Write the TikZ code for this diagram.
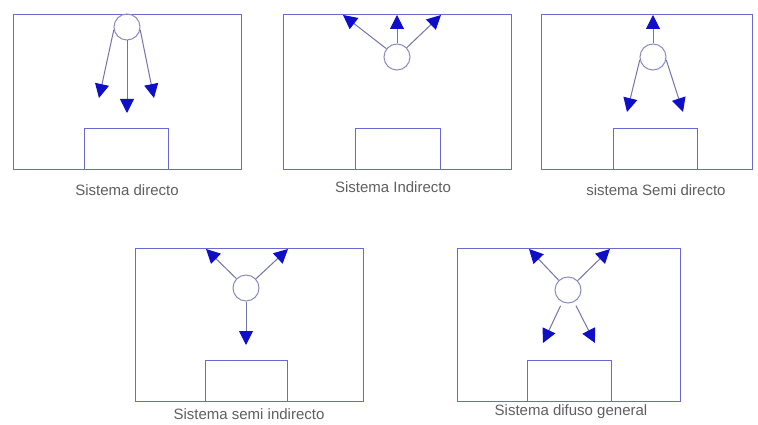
\documentclass[tikz,border=0pt]{standalone}
\usepackage{fontspec}
\setmainfont{Liberation Sans}
\usetikzlibrary{arrows.meta}
\definecolor{boxc}{RGB}{105,105,210}
\definecolor{circc}{RGB}{140,140,190}
\definecolor{linec}{RGB}{115,115,175}
\definecolor{tipc}{RGB}{15,15,200}
\definecolor{txtc}{RGB}{95,95,95}
\begin{document}
\begin{tikzpicture}[x=1pt,y=-1pt,
  room/.style={draw=boxc,line width=0.9pt,inner sep=0pt,rectangle},
  lamp/.style={draw=boxc,line width=0.9pt,inner sep=0pt,rectangle,minimum width=84pt,minimum height=41pt},
  lum/.style={draw=circc,line width=1pt,circle,inner sep=0pt,minimum size=26pt},
  ray/.style={draw=linec,line width=1pt,-{Triangle[length=14pt,width=14pt,fill=tipc,color=tipc]}},
  lbl/.style={text=txtc,font=\fontsize{15}{17}\selectfont,inner sep=0pt}]
\useasboundingbox[fill=white] (0,0) rectangle (758,425);
% ---- Box 1: Sistema directo
\node[room,minimum width=228pt,minimum height=155pt] (r1) at (127,91.5) {};
\node[lamp] (l1) at (126,148.5) {};
\node[lum] (c1) at (127,27) {};
\coordinate (t1a) at (99,98);
\coordinate (t1b) at (127,113);
\coordinate (t1c) at (154,98);
\draw[ray] (c1.192) -- (t1a);
\draw[ray] (c1.south) -- (t1b);
\draw[ray] (c1.-12) -- (t1c);
\node[lbl] (n1) at (127,190) {Sistema directo};
% ---- Box 2: Sistema Indirecto
\node[room,minimum width=228pt,minimum height=155pt] (r2) at (397,91.5) {};
\node[lamp,minimum width=85pt] (l2) at (397.5,148.5) {};
\node[lum] (c2) at (397,57) {};
\coordinate (t2a) at (343,15);
\coordinate (t2b) at (397,15);
\coordinate (t2c) at (441,15);
\draw[ray] (c2) -- (t2a);
\draw[ray] (c2) -- (t2b);
\draw[ray] (c2) -- (t2c);
\node[lbl] (n2) at (393,187) {Sistema Indirecto};
% ---- Box 3: sistema Semi directo
\node[room,minimum width=211pt,minimum height=155pt] (r3) at (646.5,91.5) {};
\node[lamp] (l3) at (655,148.5) {};
\node[lum] (c3) at (653,57) {};
\coordinate (t3a) at (653,15);
\coordinate (t3b) at (627,112);
\coordinate (t3c) at (683,112);
\draw[ray] (c3) -- (t3a);
\draw[ray] (c3.192) -- (t3b);
\draw[ray] (c3.-12) -- (t3c);
\node[lbl] (n3) at (656,190) {sistema Semi directo};
% ---- Box 4: Sistema semi indirecto
\node[room,minimum width=228pt,minimum height=153pt] (r4) at (249,324.5) {};
\node[lamp,minimum width=82pt] (l4) at (246,380.5) {};
\node[lum] (c4) at (246,288) {};
\coordinate (t4a) at (206,249);
\coordinate (t4b) at (288,249);
\coordinate (t4c) at (246,345);
\draw[ray] (c4) -- (t4a);
\draw[ray] (c4) -- (t4b);
\draw[ray] (c4) -- (t4c);
\node[lbl] (n4) at (249,414) {Sistema semi indirecto};
% ---- Box 5: Sistema difuso general
\node[room,minimum width=223pt,minimum height=153pt] (r5) at (568.5,324.5) {};
\node[lamp] (l5) at (569,380.5) {};
\node[lum] (c5) at (568,290) {};
\coordinate (t5a) at (529,249);
\coordinate (t5b) at (610,249);
\coordinate (t5c) at (543,343);
\coordinate (t5d) at (595,343);
\draw[ray] (c5) -- (t5a);
\draw[ray] (c5) -- (t5b);
\draw[ray,shorten <=4pt] (c5) -- (t5c);
\draw[ray,shorten <=4pt] (c5) -- (t5d);
\node[lbl] (n5) at (571,412) {Sistema difuso general};
\end{tikzpicture}
\end{document}
